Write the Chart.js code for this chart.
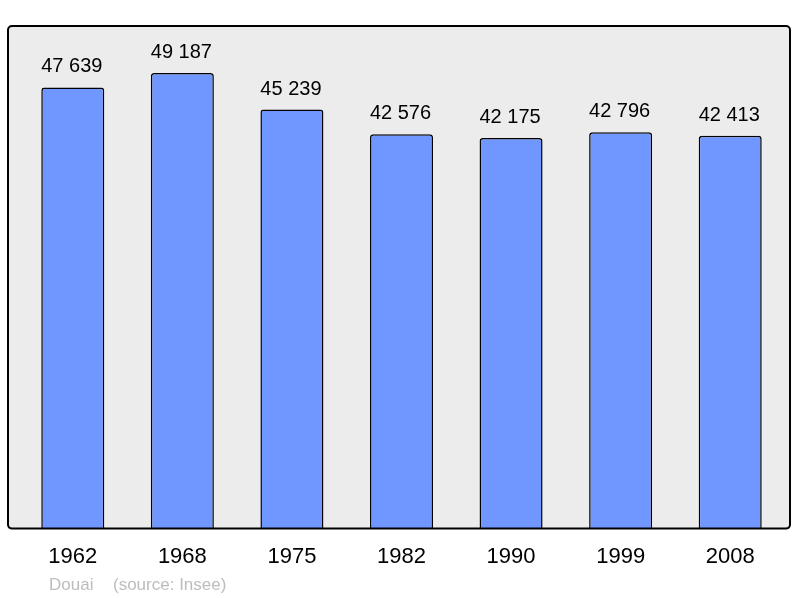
<!DOCTYPE html>
<html>
<head>
<meta charset="utf-8">
<script src="https://cdn.jsdelivr.net/npm/chart.js@4"></script>
<style>
  html, body { margin: 0; padding: 0; background: #ffffff; }
  #wrap { width: 800px; height: 598px; }
</style>
</head>
<body>
<div id="wrap"><canvas id="pop-chart"></canvas></div>
<script>
// population data (Douai)
const years = ['1962', '1968', '1975', '1982', '1990', '1999', '2008'];
const population = [47639, 49187, 45239, 42576, 42175, 42796, 42413];
const footerText = ['Douai', '(source: Insee)'];

function fmt(n) {
    return String(n).replace(/\B(?=(\d{3})+(?!\d))/g, ' ');
}

// grey rounded frame behind the bars
const framePlugin = {
    id: 'frame',
    beforeDraw(chart) {
        const { ctx, chartArea } = chart;
        const x = chartArea.left - 10, y = chartArea.top - 1;
        const w = chartArea.right + 5 - x, h = chartArea.bottom - y;
        ctx.save();
        ctx.beginPath();
        ctx.roundRect(x, y, w, h, 4);
        ctx.fillStyle = '#ececec';
        ctx.fill();
        ctx.restore();
    },
    afterDatasetsDraw(chart) {
        const { ctx, chartArea } = chart;
        const x = chartArea.left - 10, y = chartArea.top - 1;
        const w = chartArea.right + 5 - x, h = chartArea.bottom - y;
        ctx.save();
        ctx.beginPath();
        ctx.roundRect(x, y, w, h, 4);
        ctx.lineWidth = 2;
        ctx.strokeStyle = '#000';
        ctx.stroke();
        ctx.restore();
    }
};

// numbers above each bar + source line
const labelPlugin = {
    id: 'valueLabels',
    afterDraw(chart) {
        const { ctx } = chart;
        const meta = chart.getDatasetMeta(0);
        ctx.save();
        ctx.font = '20px "Liberation Sans", Arial, sans-serif';
        ctx.fillStyle = '#000';
        ctx.textAlign = 'center';
        ctx.textBaseline = 'alphabetic';
        meta.data.forEach((bar, i) => {
            ctx.fillText(fmt(population[i]), bar.x - 1, bar.y - 15);
        });
        ctx.font = '17px "Liberation Sans", Arial, sans-serif';
        ctx.fillStyle = '#bdbdbd';
        ctx.textAlign = 'left';
        ctx.fillText(footerText[0], 49, 590);
        ctx.fillText(footerText[1], 113, 590);
        ctx.restore();
    }
};

const ctx = document.getElementById('pop-chart').getContext('2d');
const popChart = new Chart(ctx, {
    type: 'bar',
    data: {
        labels: years,
        datasets: [{
            data: population,
            backgroundColor: '#7097ff',
            borderColor: '#000000',
            borderWidth: 1.5,
            borderRadius: 3,
            borderSkipped: 'start',
            barPercentage: 0.575,
            categoryPercentage: 1.0
        }]
    },
    options: {
        responsive: true,
        maintainAspectRatio: false,
        animation: false,
        layout: {
            padding: { left: 18, right: 15, top: 27, bottom: 13 }
        },
        plugins: {
            legend: { display: false },
            tooltip: { enabled: false }
        },
        scales: {
            x: {
                grid: { display: false, drawTicks: false },
                border: { display: false },
                ticks: {
                    padding: 15,
                    color: '#000',
                    font: { family: '"Liberation Sans", Arial, sans-serif', size: 22 }
                }
            },
            y: {
                display: false,
                min: 0,
                max: 54160
            }
        }
    },
    plugins: [framePlugin, labelPlugin]
});
</script>
</body>
</html>
